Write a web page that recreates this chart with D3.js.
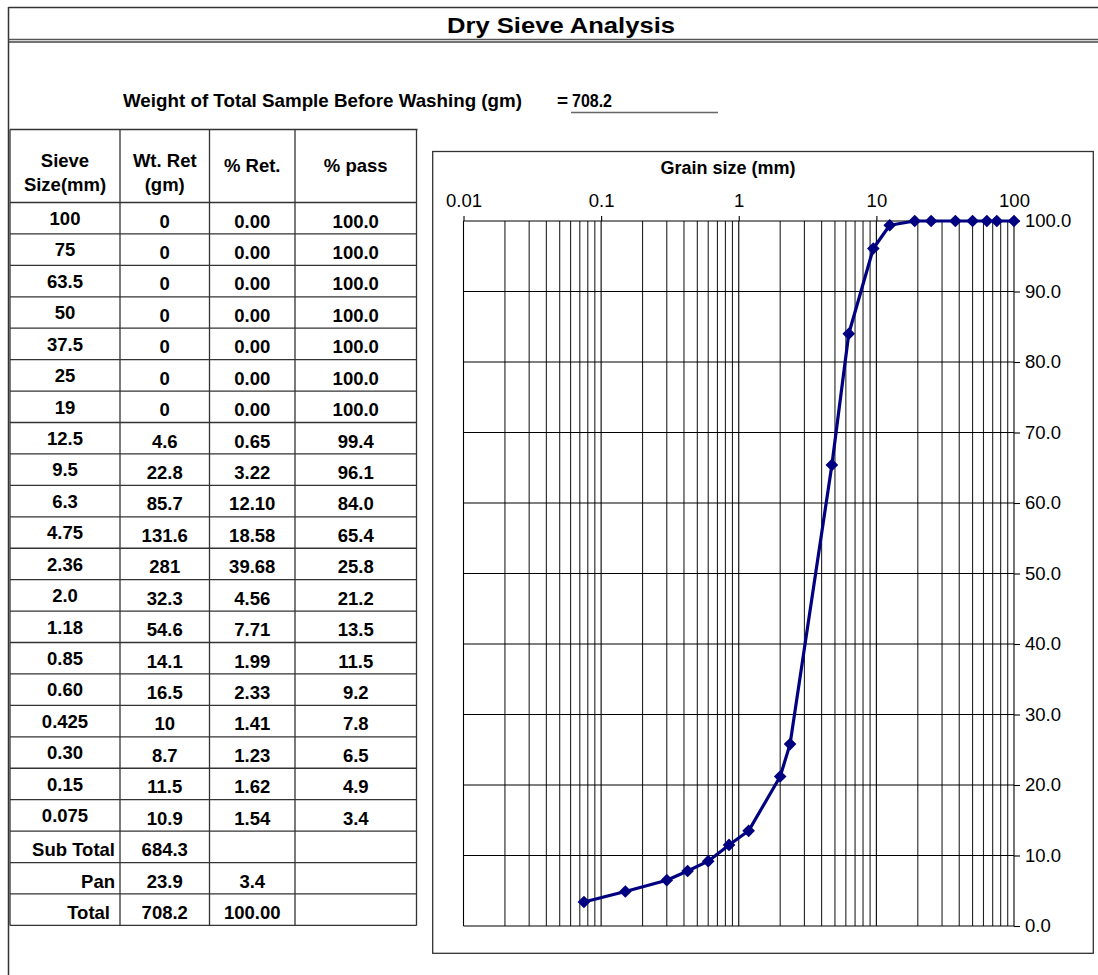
<!DOCTYPE html>
<html>
<head>
<meta charset="utf-8">
<script src="https://cdn.jsdelivr.net/npm/d3@7"></script>
<style>
  html, body { margin: 0; padding: 0; background: #fff; }
  svg { display: block; }
  text { font-family: "Liberation Sans", Arial, sans-serif; fill: #000; }
</style>
</head>
<body>
<svg id="chart" width="1098" height="975"></svg>
<script>
// ---------- data ----------
const sieveLabels = ["100","75","63.5","50","37.5","25","19","12.5","9.5","6.3","4.75","2.36","2.0","1.18","0.85","0.60","0.425","0.30","0.15","0.075"];
const sieveSizes  = [100,75,63.5,50,37.5,25,19,12.5,9.5,6.3,4.75,2.36,2.0,1.18,0.85,0.60,0.425,0.30,0.15,0.075];
const wtRetained  = ["0","0","0","0","0","0","0","4.6","22.8","85.7","131.6","281","32.3","54.6","14.1","16.5","10","8.7","11.5","10.9"];
const pctRetained = ["0.00","0.00","0.00","0.00","0.00","0.00","0.00","0.65","3.22","12.10","18.58","39.68","4.56","7.71","1.99","2.33","1.41","1.23","1.62","1.54"];
const pctPassing  = [100.0,100.0,100.0,100.0,100.0,100.0,100.0,99.4,96.1,84.0,65.4,25.8,21.2,13.5,11.5,9.2,7.8,6.5,4.9,3.4];
const summaryLabels = ["Sub Total","Pan","Total"];
const summaryWt     = ["684.3","23.9","708.2"];
const summaryPct    = ["","3.4","100.00"];
const headerCols    = [["Sieve","Size(mm)"],["Wt. Ret","(gm)"],["% Ret."],["% pass"]];
const xTickValues   = [0.01,0.1,1,10,100];
const yTickValues   = [0,10,20,30,40,50,60,70,80,90,100];
const titleText     = "Dry Sieve Analysis";
const weightLabel   = "Weight of Total Sample Before Washing (gm)";
const weightValue   = "708.2";
const xAxisTitle    = "Grain size (mm)";

// ---------- svg ----------
const svg = d3.select("#chart");
const W = 1098, H = 975;
const lineCol = "#333";

// outer frame
svg.append("line").attr("x1",8.5).attr("x2",W).attr("y1",7.5).attr("y2",7.5).attr("stroke",lineCol).attr("stroke-width",1.5);
svg.append("line").attr("x1",8.5).attr("x2",8.5).attr("y1",7).attr("y2",H).attr("stroke",lineCol).attr("stroke-width",1.5);
svg.append("line").attr("x1",8.5).attr("x2",W).attr("y1",39.5).attr("y2",39.5).attr("stroke","#555").attr("stroke-width",1.5);
svg.append("line").attr("x1",8.5).attr("x2",W).attr("y1",42).attr("y2",42).attr("stroke","#444").attr("stroke-width",1.5);

// title
svg.append("text").attr("x",561).attr("y",33).attr("text-anchor","middle")
  .attr("font-weight","bold").attr("font-size",22.5)
  .attr("textLength",228).attr("lengthAdjust","spacingAndGlyphs")
  .text(titleText);

// weight line
svg.append("text").attr("x",123).attr("y",107).attr("font-weight","bold").attr("font-size",19)
  .attr("textLength",399).attr("lengthAdjust","spacingAndGlyphs").text(weightLabel);
svg.append("text").attr("x",557).attr("y",107).attr("font-weight","bold").attr("font-size",19).text("=");
svg.append("text").attr("x",572).attr("y",107).attr("font-weight","bold").attr("font-size",19)
  .attr("textLength",40).attr("lengthAdjust","spacingAndGlyphs").text(weightValue);
svg.append("line").attr("x1",571).attr("x2",718).attr("y1",112.5).attr("y2",112.5).attr("stroke","#666").attr("stroke-width",1.5);

// ---------- table ----------
const colEdges = [10,120,209.5,295,416.5];
const tableTop = 129.5, headerBottom = 202.5, rowH = 31.43;
const nRows = sieveLabels.length + summaryLabels.length;
const rowY = i => headerBottom + i*rowH;
const tableBottom = rowY(nRows);
const tg = svg.append("g");

tg.append("line").attr("x1",colEdges[0]).attr("x2",colEdges[4]+1).attr("y1",tableTop).attr("y2",tableTop).attr("stroke",lineCol).attr("stroke-width",1.3);
for (let i=0;i<=nRows;i++){
  tg.append("line").attr("x1",colEdges[0]).attr("x2",colEdges[4]).attr("y1",rowY(i)).attr("y2",rowY(i)).attr("stroke",lineCol).attr("stroke-width",1.3);
}
colEdges.forEach(x=>{
  tg.append("line").attr("x1",x).attr("x2",x).attr("y1",tableTop).attr("y2",tableBottom).attr("stroke",lineCol).attr("stroke-width",1.3);
});
const colC = i => (colEdges[i]+colEdges[i+1])/2;
const fs = 18.5;
// header
headerCols.forEach((lines,ci)=>{
  if (lines.length===2){
    tg.append("text").attr("x",colC(ci)).attr("y",167).attr("text-anchor","middle").attr("font-weight","bold").attr("font-size",fs).text(lines[0]);
    tg.append("text").attr("x",colC(ci)).attr("y",191).attr("text-anchor","middle").attr("font-weight","bold").attr("font-size",fs).text(lines[1]);
  } else {
    tg.append("text").attr("x",colC(ci)).attr("y",172).attr("text-anchor","middle").attr("font-weight","bold").attr("font-size",fs).text(lines[0]);
  }
});
// body
sieveLabels.forEach((lab,i)=>{
  const y = rowY(i);
  tg.append("text").attr("x",colC(0)).attr("y",y+22.5).attr("text-anchor","middle").attr("font-weight","bold").attr("font-size",fs).text(lab);
  tg.append("text").attr("x",colC(1)).attr("y",y+25).attr("text-anchor","middle").attr("font-weight","bold").attr("font-size",fs).text(wtRetained[i]);
  tg.append("text").attr("x",colC(2)).attr("y",y+25).attr("text-anchor","middle").attr("font-weight","bold").attr("font-size",fs).text(pctRetained[i]);
  tg.append("text").attr("x",colC(3)).attr("y",y+25).attr("text-anchor","middle").attr("font-weight","bold").attr("font-size",fs).text(d3.format(".1f")(pctPassing[i]));
});
summaryLabels.forEach((lab,k)=>{
  const y = rowY(sieveLabels.length+k);
  tg.append("text").attr("x", k===2 ? 110 : 115).attr("y",y+25).attr("text-anchor","end").attr("font-weight","bold").attr("font-size",fs).text(lab);
  tg.append("text").attr("x",colC(1)).attr("y",y+25).attr("text-anchor","middle").attr("font-weight","bold").attr("font-size",fs).text(summaryWt[k]);
  if (summaryPct[k]) tg.append("text").attr("x",colC(2)).attr("y",y+25).attr("text-anchor","middle").attr("font-weight","bold").attr("font-size",fs).text(summaryPct[k]);
});

// ---------- chart ----------
svg.append("rect").attr("x",432.7).attr("y",151.5).attr("width",1093.3-432.7).attr("height",953.3-151.5)
  .attr("fill","#fff").attr("stroke",lineCol).attr("stroke-width",1.3);

const x = d3.scaleLog().domain([0.01,100]).range([463.5,1014]);
const y = d3.scaleLinear().domain([0,100]).range([926,221]);

const grid = svg.append("g");
// vertical log gridlines
grid.selectAll("line.v").data(x.ticks()).join("line")
  .attr("class","v")
  .attr("x1",d=>x(d)).attr("x2",d=>x(d)).attr("y1",y(100)).attr("y2",y(0))
  .attr("stroke",d=> (Math.abs(Math.log10(d)-Math.round(Math.log10(d)))<1e-9) ? "#000" : "#222")
  .attr("stroke-width",1.1);
// horizontal gridlines
grid.selectAll("line.h").data(yTickValues).join("line")
  .attr("class","h")
  .attr("x1",x(0.01)).attr("x2",x(100)).attr("y1",d=>y(d)).attr("y2",d=>y(d))
  .attr("stroke","#000").attr("stroke-width",1.1);

// right axis
const yAxis = d3.axisRight(y).tickValues(yTickValues).tickSize(6).tickPadding(5).tickFormat(d3.format(".1f"));
const yg = svg.append("g").attr("transform",`translate(${x(100)},0)`).call(yAxis);
yg.select(".domain").remove();
yg.selectAll(".tick line").attr("stroke","#000").attr("stroke-width",1.1);
yg.selectAll(".tick text").attr("font-size",18.5).attr("font-family","Liberation Sans, Arial, sans-serif").attr("fill","#000");

// top axis
const xAxis = d3.axisTop(x).tickValues(xTickValues).tickSize(5).tickPadding(9).tickFormat(d=>String(d));
const xg = svg.append("g").attr("transform",`translate(0,${y(100)})`).call(xAxis);
xg.select(".domain").remove();
xg.selectAll(".tick line").attr("stroke","#000").attr("stroke-width",1.1);
xg.selectAll(".tick text").attr("font-size",18.5).attr("font-family","Liberation Sans, Arial, sans-serif").attr("fill","#000");

svg.append("text").attr("x",728).attr("y",174).attr("text-anchor","middle").attr("font-weight","bold").attr("font-size",18).text(xAxisTitle);

// data line
const pts = sieveSizes.map((s,i)=>({s, p:pctPassing[i]}));
svg.append("path").datum(pts)
  .attr("d", d3.line().x(d=>x(d.s)).y(d=>y(d.p)))
  .attr("fill","none").attr("stroke","#000080").attr("stroke-width",3.2).attr("stroke-linejoin","round");
svg.append("g").selectAll("path").data(pts).join("path")
  .attr("d", d3.symbol(d3.symbolSquare, 80)())
  .attr("transform", d=>`translate(${x(d.s)},${y(d.p)}) rotate(45)`)
  .attr("fill","#000080");
</script>
</body>
</html>
